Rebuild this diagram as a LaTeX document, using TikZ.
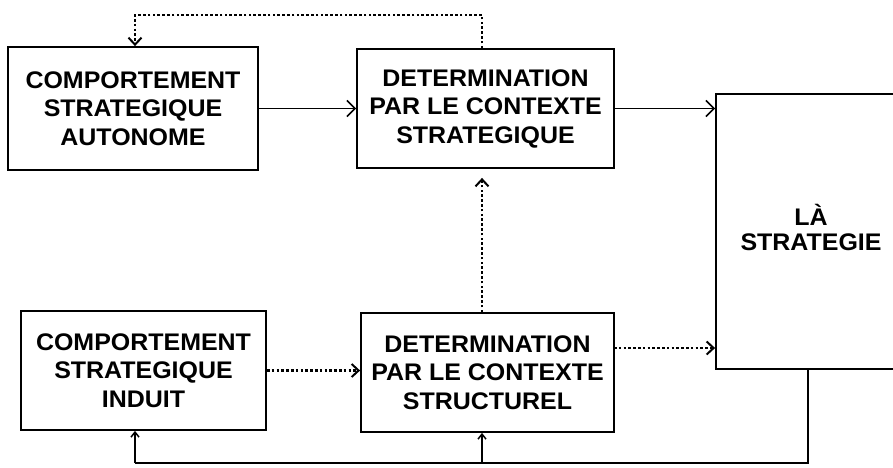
\documentclass[tikz,border=0pt]{standalone}
\usepackage{fontspec}
\newfontfamily\labfont[FakeStretch=1.04]{Liberation Sans}
\usetikzlibrary{arrows.meta}
\begin{document}
\begin{tikzpicture}[x=1pt,y=-1pt,
  box/.style={draw,line width=1.8pt,inner sep=0pt,align=center,
    font=\labfont\bfseries\fontsize{24}{28.5}\selectfont},
  solidarr/.style={line width=1.6pt,-{Straight Barb[length=8pt,width=16pt,line width=1.6pt]}},
  smallarr/.style={line width=1.6pt,-{Straight Barb[length=5pt,width=8pt,line width=1.5pt]}},
  dotline/.style={line width=2.6pt,dash pattern=on 2.6pt off 2.2pt},
  dotarr/.style={dotline,-{Straight Barb[length=7pt,width=13pt,line width=2pt]}}]
\useasboundingbox (0,0) rectangle (893,467);
\node[box,minimum width=250pt,minimum height=123pt] (b1) at (133,108.5)
  {COMPORTEMENT\\STRATEGIQUE\\AUTONOME};
\node[box,minimum width=257pt,minimum height=119pt] (b2) at (485.5,108.5)
  {DETERMINATION\\PAR LE CONTEXTE\\STRATEGIQUE};
\node[box,minimum width=245pt,minimum height=119pt] (b3) at (143.5,370.5)
  {COMPORTEMENT\\STRATEGIQUE\\INDUIT};
\node[box,minimum width=253pt,minimum height=119pt] (b4) at (487.5,372.5)
  {DETERMINATION\\PAR LE CONTEXTE\\STRUCTUREL};
\node[box,minimum width=190pt,minimum height=275pt] (big) at (811,231.5)
  {\raisebox{7pt}{\begin{tabular}{@{}c@{}}LÀ\\[-3pt]STRATEGIE\end{tabular}}};
% coordinates
\coordinate (tr) at (482,15);
\coordinate (tl) at (135,15);
\coordinate (bot) at (808,463);
\coordinate (bl) at (135,463);
\coordinate (bm) at (482,463);
\coordinate (s4) at (614,348);
% solid arrows
\draw[solidarr] (b1.east) -- (b2.west);
\draw[solidarr] (b2.east) -- (b2.east -| big.west);
% dotted feedback top
\draw[dotarr] (tr |- b2.north) -- (tr) -- (tl) -- (tl |- b1.north);
\draw[dotarr,shorten >=9pt] (bm |- b4.north) -- (bm |- b2.south);
\draw[dotarr] (b3.east) -- (b3.east -| b4.west);
\draw[dotarr] (s4) -- (s4 -| big.west);
% bottom feedback
\draw[line width=1.6pt] (bot |- big.south) -- (bot) -- (bl);
\draw[smallarr] (bl) -- (bl |- b3.south);
\draw[smallarr] (bm) -- (bm |- b4.south);
\end{tikzpicture}
\end{document}
